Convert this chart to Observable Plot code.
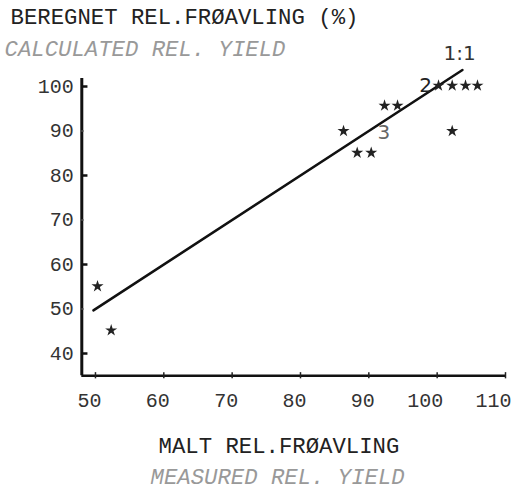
<!DOCTYPE html>
<html>
<head>
<meta charset="utf-8">
<script src="https://cdn.jsdelivr.net/npm/d3@7"></script>
<script src="https://cdn.jsdelivr.net/npm/@observablehq/plot@0.6"></script>
<style>
  html, body { margin: 0; padding: 0; background: #fff; }
  #chart svg { display: block; }
</style>
</head>
<body>
<div id="chart"></div>
<script>
// Measured relative yield (x) vs calculated relative yield (y)
const measured   = [50.3, 52.3, 86.3, 88.3, 90.35, 92.3, 94.2, 102.2, 100.2, 102.2, 104.15, 105.9];
const calculated = [55.1, 45.2, 90.0, 85.1, 85.1, 95.7, 95.7, 90.0, 100.2, 100.2, 100.2, 100.2];

// 1:1 line end points
const lineX = [49.7, 103.7];
const lineY = [49.7, 103.7];

// Multiplicity annotations
const noteText = ["2", "3"];
const noteX = [98.3, 92.2];
const noteY = [100.2, 89.7];
const noteColor = ["#222", "#666"];

const xTicks = [50, 60, 70, 80, 90, 100, 110];
const yTicks = [40, 50, 60, 70, 80, 90, 100];
const yMajor = [40, 60, 80, 100];

const titleY = "BEREGNET REL.FRØAVLING (%)";
const subtitleY = "CALCULATED REL. YIELD";
const titleX = "MALT REL.FRØAVLING";
const subtitleX = "MEASURED REL. YIELD";
const lineLabel = "1:1";

const W = 511, H = 491;
const ML = 81.3, MT = 68.2, MR = 6, MB = 115.75;
const FONT = "Liberation Mono, DejaVu Sans Mono, monospace";

const points = measured.map((x, i) => ({x, y: calculated[i]}));
const line = lineX.map((x, i) => ({x, y: lineY[i]}));
const notes = noteText.map((t, i) => ({t, x: noteX[i], y: noteY[i], c: noteColor[i]}));

function pxText(text, x, y, opts = {}) {
  return Plot.text([text], {
    frameAnchor: "top-left",
    text: d => d,
    dx: x - ML,
    dy: y - MT,
    textAnchor: "start",
    lineAnchor: "middle",
    fontFamily: FONT,
    fontSize: 22.3,
    fill: "#222",
    ...opts
  });
}

const chart = Plot.plot({
  width: W,
  height: H,
  marginLeft: ML,
  marginTop: MT,
  marginRight: MR,
  marginBottom: MB,
  style: {fontFamily: FONT, background: "#fff"},
  x: {domain: [48, 110]},
  y: {domain: [35, 104]},
  marks: [
    // Axis labels
    Plot.axisX({ticks: xTicks, tickSize: 0, tickPadding: 17, fontSize: 20, fill: "#333", label: null,
                textAnchor: "end", dx: 6, tickFormat: d => String(d)}),
    Plot.axisY({ticks: yTicks, tickSize: 0, tickPadding: 8, fontSize: 20, fill: "#333", label: null, tickFormat: d => String(d)}),
    // Axis lines
    Plot.ruleX([48], {y1: 35, y2: 101.8, stroke: "#111", strokeWidth: 3}),
    Plot.ruleY([35], {x1: 48, x2: 110, stroke: "#111", strokeWidth: 2.5}),
    // Y ticks (inward)
    Plot.ruleY(yMajor, {x1: 48, x2: 48.9, stroke: "#111", strokeWidth: 2.5}),
    Plot.ruleY(yTicks.filter(t => !yMajor.includes(t)), {x1: 48, x2: 48.35, stroke: "#555", strokeWidth: 1.5}),
    // X ticks (small crosses)
    Plot.ruleX(xTicks, {y1: 34.3, y2: 35.7, stroke: "#222", strokeWidth: 1.5}),
    // 1:1 line
    Plot.line(line, {x: "x", y: "y", stroke: "#111", strokeWidth: 2.5}),
    // Points
    Plot.dot(points, {x: "x", y: "y", symbol: "star", r: 3.8, fill: "#222", stroke: "none"}),
    // Notes
    Plot.text(notes, {x: "x", y: "y", text: "t", fill: "c", fontSize: 20, fontFamily: "DejaVu Sans, sans-serif"}),
    Plot.text([lineLabel], {x: 103.3, y: 107.5, text: d => d, fontSize: 20, fill: "#333", fontFamily: "DejaVu Sans, sans-serif"}),
    // Titles
    pxText(titleY, 10, 16),
    pxText(subtitleY, 4, 48, {fill: "#999", fontStyle: "italic"}),
    pxText(titleX, 158, 445),
    pxText(subtitleX, 150, 476.5, {fill: "#999", fontStyle: "italic"})
  ]
});

document.getElementById("chart").appendChild(chart);
</script>
</body>
</html>
